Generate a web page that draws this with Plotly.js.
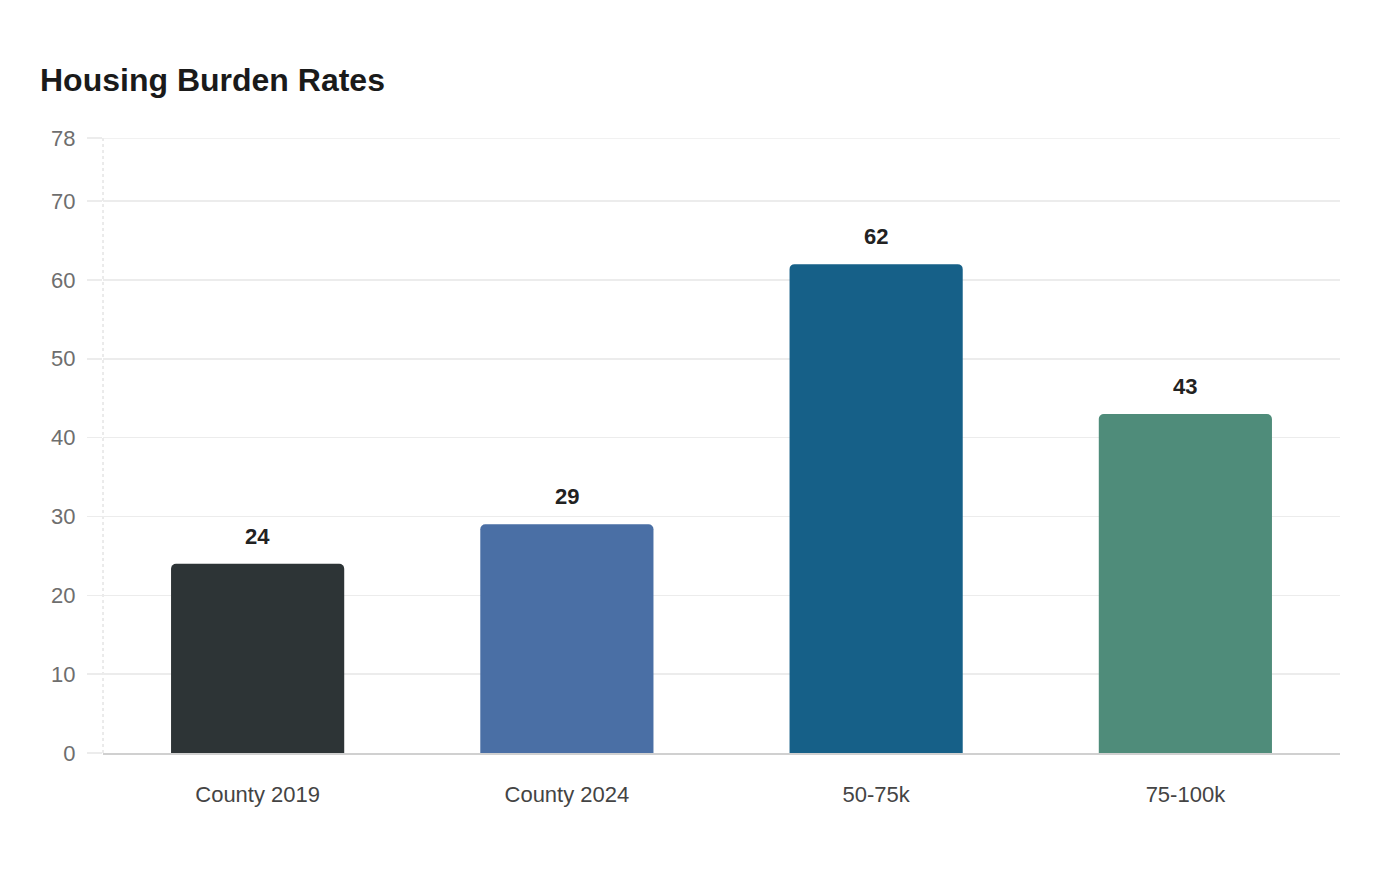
<!DOCTYPE html>
<html>
<head>
<meta charset="utf-8">
<script src="https://cdn.plot.ly/plotly-3.0.1.min.js"></script>
<style>html,body{margin:0;padding:0;background:#fff;}#chart{width:1400px;height:880px;}</style>
</head>
<body>
<div id="chart"></div>
<script>
const categories = ["County 2019", "County 2024", "50-75k", "75-100k"];
const values = [24, 29, 62, 43];
const barColors = ["#2d3436", "#4a6fa5", "#166088", "#4f8c7a"];
const yTickVals = [0, 10, 20, 30, 40, 50, 60, 70, 78];
const yTickText = ["0", "10", "20", "30", "40", "50", "60", "70", "78"];
const yMax = 78;

const trace = {
  type: "bar",
  x: categories,
  y: values,
  marker: { color: barColors, line: { width: 0 } },
  hoverinfo: "none"
};

const annotations = categories.map((c, i) => ({
  x: c, y: values[i], xref: "x", yref: "y",
  text: "<b>" + values[i] + "</b>",
  showarrow: false, yanchor: "bottom", yshift: 13,
  font: { family: "Liberation Sans, Arial, sans-serif", size: 22, color: "#222222" }
}));

const layout = {
  width: 1400, height: 880,
  paper_bgcolor: "#ffffff", plot_bgcolor: "#ffffff",
  margin: { l: 103, r: 60, t: 138, b: 127 },
  font: { family: "Liberation Sans, Arial, sans-serif" },
  title: {
    text: "<b>Housing Burden Rates</b>",
    x: 40 / 1400, xref: "container", xanchor: "left",
    y: 1 - 80 / 880, yref: "container", yanchor: "middle",
    font: { size: 32, color: "#1a1a1a" }
  },
  bargap: 0.44,
  barcornerradius: 5,
  showlegend: false,
  xaxis: {
    type: "category",
    showgrid: false,
    showline: true, linecolor: "#d0d0d0", linewidth: 2,
    ticks: "outside", ticklen: 21, tickcolor: "rgba(0,0,0,0)",
    tickfont: { size: 22, color: "#444444" },
    zeroline: false, fixedrange: true
  },
  yaxis: {
    range: [0, yMax],
    tickmode: "array", tickvals: yTickVals, ticktext: yTickText,
    showgrid: true, gridcolor: "#ececec", gridwidth: 1.5,
    ticks: "outside", ticklen: 15, tickcolor: "#ececec", tickwidth: 1.5,
    ticklabelstandoff: 7,
    tickfont: { size: 22, color: "#6e6e6e" },
    showline: false, zeroline: false, fixedrange: true
  },
  shapes: [{
    type: "line", xref: "x domain", yref: "y domain",
    x0: 0, x1: 0, y0: 0, y1: 1,
    line: { color: "#d6d6d6", width: 1, dash: "dot" },
    layer: "below"
  }, {
    type: "line", xref: "x domain", yref: "y",
    x0: 0, x1: 1, y0: yMax, y1: yMax,
    line: { color: "#ececec", width: 1.5 },
    layer: "below"
  }],
  annotations: annotations
};

Plotly.newPlot("chart", [trace], layout, { displayModeBar: false, staticPlot: true });
</script>
</body>
</html>
